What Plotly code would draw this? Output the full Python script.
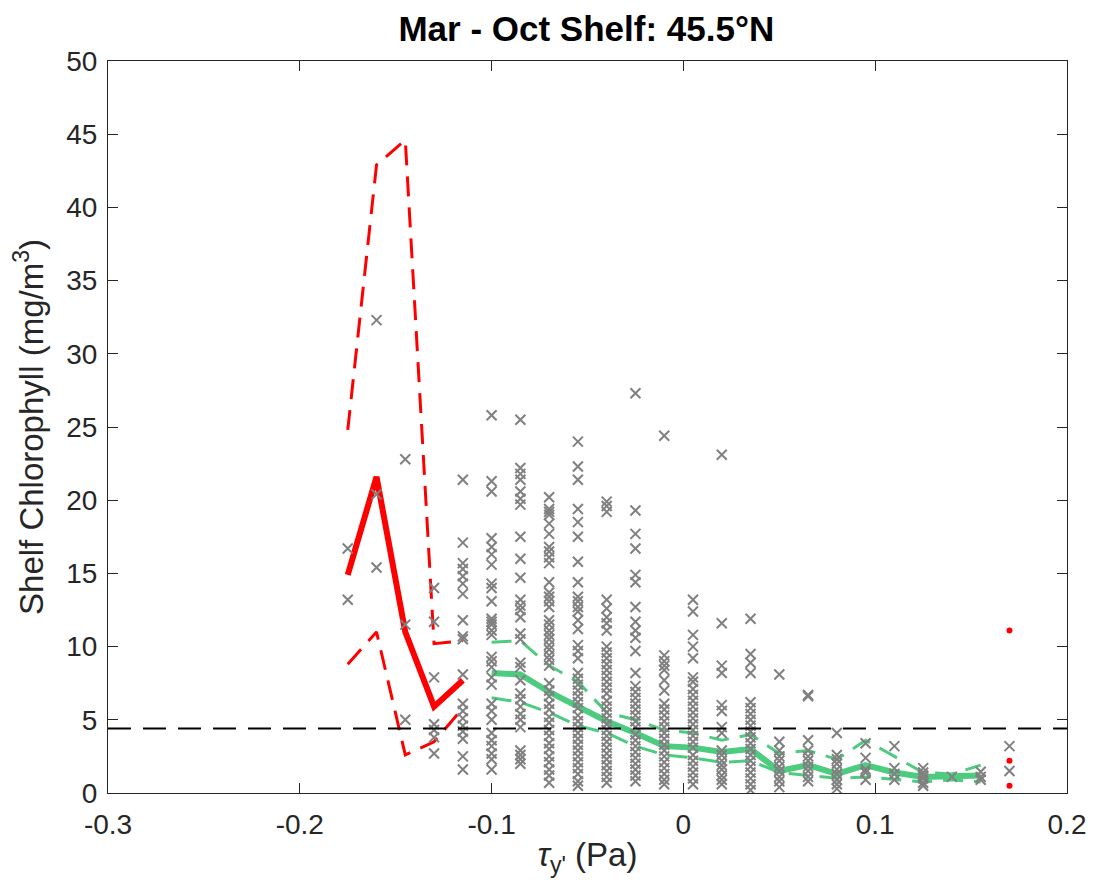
import plotly.graph_objects as go

# ---- data ----
bin_centers = [-0.175, -0.16, -0.145, -0.13, -0.115, -0.1, -0.085, -0.07, -0.055, -0.04,
               -0.025, -0.01, 0.005, 0.02, 0.035, 0.05, 0.065, 0.08, 0.095, 0.11,
               0.125, 0.14, 0.155, 0.17]

scatter_values = [
    [16.7, 13.2],
    [32.3, 20.4, 15.4],
    [22.8, 11.5, 5.0],
    [14.0, 11.7, 7.9, 4.7, 4.3, 3.8, 2.7],
    [21.4, 17.1, 15.7, 15.3, 14.8, 14.3, 13.6, 11.8, 10.7, 10.5, 8.1, 6.1, 5.6, 5.1, 4.6, 4.2, 3.7, 2.5, 1.6],
    [25.8, 21.3, 20.6, 17.4, 16.8, 16.3, 15.6, 14.3, 14.0, 13.1, 11.9, 11.7, 11.5, 11.1, 10.8,
     9.3, 9.0, 8.6, 7.9, 7.4, 6.1, 5.6, 5.0, 4.1, 3.6, 3.2, 2.7, 2.3, 1.6],
    [25.5, 22.2, 21.8, 21.4, 20.6, 20.1, 19.7, 17.5, 16.0, 14.7, 13.2, 12.8, 12.5, 12.0, 10.9,
     10.5, 8.9, 8.6, 7.7, 6.8, 6.4, 5.9, 5.4, 5.0, 4.5, 2.9, 2.6, 2.3, 2.0],
    [20.2, 19.4, 19.2, 19.0, 18.4, 17.7, 16.8, 16.5, 16.1, 15.7, 14.4, 13.7, 13.4, 13.1, 12.7,
     11.8, 11.5, 11.1, 10.8, 10.5, 10.1, 9.8, 9.4, 9.1, 8.7, 7.5, 7.0, 6.6, 6.1, 5.7, 5.2,
     4.8, 4.3, 3.9, 3.4, 3.0, 2.5, 2.1, 1.6, 1.2, 0.7],
    [24.0, 22.3, 21.4, 19.4, 18.5, 17.5, 15.8, 14.4, 13.4, 13.1, 12.7, 12.4, 11.8, 11.2, 10.1,
     9.7, 9.2, 8.2, 7.8, 7.4, 7.0, 6.6, 6.2, 5.8, 5.3, 4.9, 4.5, 4.1, 3.7, 3.3, 2.9, 2.5,
     2.1, 1.7, 1.3, 0.8, 0.5],
    [19.9, 19.6, 19.2, 13.2, 12.6, 12.0, 11.6, 11.1, 10.0, 9.6, 9.2, 8.8, 8.4, 8.0, 7.6, 7.2,
     6.8, 6.3, 5.9, 5.5, 5.1, 4.7, 4.3, 3.9, 3.5, 3.1, 2.7, 2.3, 1.9, 1.5, 1.1, 0.7],
    [27.3, 19.3, 17.7, 16.7, 14.9, 14.4, 12.7, 11.7, 11.1, 10.6, 9.7, 8.2, 7.3, 6.9, 6.5, 6.1,
     5.7, 5.3, 4.9, 4.5, 4.0, 3.6, 3.2, 2.8, 2.4, 2.0, 1.6, 1.2, 0.8],
    [24.4, 9.4, 9.0, 8.7, 8.4, 7.7, 7.0, 6.1, 5.7, 5.3, 4.9, 4.5, 4.1, 3.7, 3.3, 2.9, 2.5,
     2.1, 1.7, 1.3, 0.9, 0.6],
    [13.2, 12.4, 10.8, 10.0, 9.2, 7.9, 7.6, 7.1, 6.7, 6.3, 5.9, 5.5, 5.1, 4.7, 4.3, 3.9, 3.5,
     3.1, 2.6, 2.2, 1.8, 1.4, 1.0, 0.6],
    [23.1, 11.6, 8.7, 8.2, 6.0, 5.6, 4.5, 4.1, 2.9, 2.6, 2.2, 1.9, 1.6, 1.2, 0.9, 0.6],
    [11.9, 9.5, 8.9, 8.2, 6.2, 5.8, 5.4, 5.0, 4.6, 4.2, 3.8, 3.4, 3.0, 2.6, 2.2, 1.8, 1.4,
     1.0, 0.6, 0.2],
    [8.1, 3.5, 2.9, 2.5, 2.2, 1.8, 1.5, 1.1, 0.8, 0.4],
    [6.7, 6.6, 3.6, 2.9, 2.5, 2.2, 1.8, 1.5, 1.1, 0.8],
    [4.1, 2.6, 2.3, 2.0, 1.6, 1.3, 0.9, 0.6, 0.3],
    [3.4, 2.4, 1.6, 1.4, 0.9],
    [3.2, 1.7, 1.3, 0.9],
    [1.7, 1.4, 1.2, 1.0, 0.7, 0.5],
    [1.1],
    [1.45, 1.1, 0.9],
    [3.2, 1.5],
]

red_x = [-0.175, -0.16, -0.145, -0.13, -0.115]
red_mean = [14.9, 21.6, 11.0, 5.9, 7.7]
red_upper = [24.8, 42.9, 44.6, 10.2, 10.4]
red_lower = [8.8, 11.0, 2.6, 3.5, 5.8]

red_end_x = [0.17]
red_end_mean = [2.2]
red_end_upper = [11.1]
red_end_lower = [0.5]

green_x = [-0.1, -0.085, -0.07, -0.055, -0.04, -0.025, -0.01, 0.005, 0.02, 0.035,
           0.05, 0.065, 0.08, 0.095, 0.11, 0.125, 0.14, 0.155]
green_mean = [8.2, 8.1, 6.9, 5.9, 4.9, 4.1, 3.2, 3.1, 2.8, 3.0,
              1.5, 1.9, 1.3, 1.9, 1.4, 1.1, 1.1, 1.2]
green_upper = [10.3, 10.4, 8.7, 7.6, 5.5, 5.0, 4.3, 4.1, 3.6, 4.0,
               2.7, 2.9, 2.3, 3.6, 2.5, 1.4, 1.3, 1.9]
green_lower = [6.5, 6.2, 5.5, 4.6, 4.1, 3.2, 2.6, 2.4, 2.1, 2.2,
               1.4, 1.2, 1.0, 1.1, 0.9, 0.75, 0.9, 0.75]

threshold = 4.4

x_ticks = [-0.3, -0.2, -0.1, 0, 0.1, 0.2]
x_tick_labels = ["-0.3", "-0.2", "-0.1", "0", "0.1", "0.2"]
y_ticks = [0, 5, 10, 15, 20, 25, 30, 35, 40, 45, 50]

# ---- figure ----
RED = "#FF0000"
GREEN = "#4DCC80"
GREY = "#808080"
AX = "#262626"
FONT = "Liberation Sans, Arial, Helvetica, sans-serif"
DASH = "20px,11px"
TICK_SIZE = 28
LABEL_SIZE = 33

fig = go.Figure()

# green band
fig.add_trace(go.Scatter(x=green_x, y=green_upper, mode="lines",
                         line=dict(color=GREEN, width=3, dash=DASH), showlegend=False))
fig.add_trace(go.Scatter(x=green_x, y=green_lower, mode="lines",
                         line=dict(color=GREEN, width=3, dash=DASH), showlegend=False))
fig.add_trace(go.Scatter(x=green_x, y=green_mean, mode="lines",
                         line=dict(color=GREEN, width=6), showlegend=False))

# red band
fig.add_trace(go.Scatter(x=red_x, y=red_upper, mode="lines",
                         line=dict(color=RED, width=3, dash=DASH), showlegend=False))
fig.add_trace(go.Scatter(x=red_x, y=red_lower, mode="lines",
                         line=dict(color=RED, width=3, dash=DASH), showlegend=False))
fig.add_trace(go.Scatter(x=red_x, y=red_mean, mode="lines",
                         line=dict(color=RED, width=6), showlegend=False))

# scatter
sx, sy = [], []
for xc, vals in zip(bin_centers, scatter_values):
    for v in vals:
        sx.append(xc)
        sy.append(v)
fig.add_trace(go.Scatter(x=sx, y=sy, mode="markers",
                         marker=dict(symbol="x-thin", size=10, color=GREY,
                                     line=dict(color=GREY, width=2)),
                         showlegend=False))

# single-point red end bin (drawn as dots)
fig.add_trace(go.Scatter(x=red_end_x * 3, y=red_end_upper + red_end_mean + red_end_lower,
                         mode="markers", marker=dict(color=RED, size=6),
                         showlegend=False))

# threshold line
fig.add_trace(go.Scatter(x=[x_ticks[0], x_ticks[-1]], y=[threshold, threshold], mode="lines",
                         line=dict(color="black", width=2, dash="23px,12px"),
                         showlegend=False))

fig.update_layout(
    width=1098, height=895,
    margin=dict(l=108, r=23, t=61, b=102),
    paper_bgcolor="white", plot_bgcolor="white",
    font=dict(family=FONT, size=TICK_SIZE, color=AX),
    title=dict(text="<b>Mar - Oct Shelf: 45.5°N</b>", x=0.534, xanchor="center",
               y=1 - 29 / 895, yanchor="middle", yref="container",
               font=dict(family=FONT, size=35, color="black")),
)
fig.update_xaxes(range=[-0.3, 0.2], tickvals=x_ticks, ticktext=x_tick_labels,
                 ticks="inside", ticklen=10, tickwidth=1, tickcolor=AX,
                 showline=True, linecolor=AX, linewidth=1, mirror="ticks",
                 showgrid=False, zeroline=False, ticklabelstandoff=6,
                 tickfont=dict(family=FONT, size=TICK_SIZE, color=AX),
                 title=dict(text="<i>τ</i><sub>y'</sub> (Pa)", standoff=4,
                            font=dict(family=FONT, size=LABEL_SIZE, color=AX)))
fig.update_yaxes(range=[0, 50], tickvals=y_ticks,
                 ticks="inside", ticklen=10, tickwidth=1, tickcolor=AX,
                 showline=True, linecolor=AX, linewidth=1, mirror="ticks",
                 showgrid=False, zeroline=False, ticklabelstandoff=4,
                 tickfont=dict(family=FONT, size=TICK_SIZE, color=AX),
                 title=dict(text="Shelf Chlorophyll (mg/m<sup>3</sup>)", standoff=12,
                            font=dict(family=FONT, size=LABEL_SIZE, color=AX)))

fig.write_html("out.html")
